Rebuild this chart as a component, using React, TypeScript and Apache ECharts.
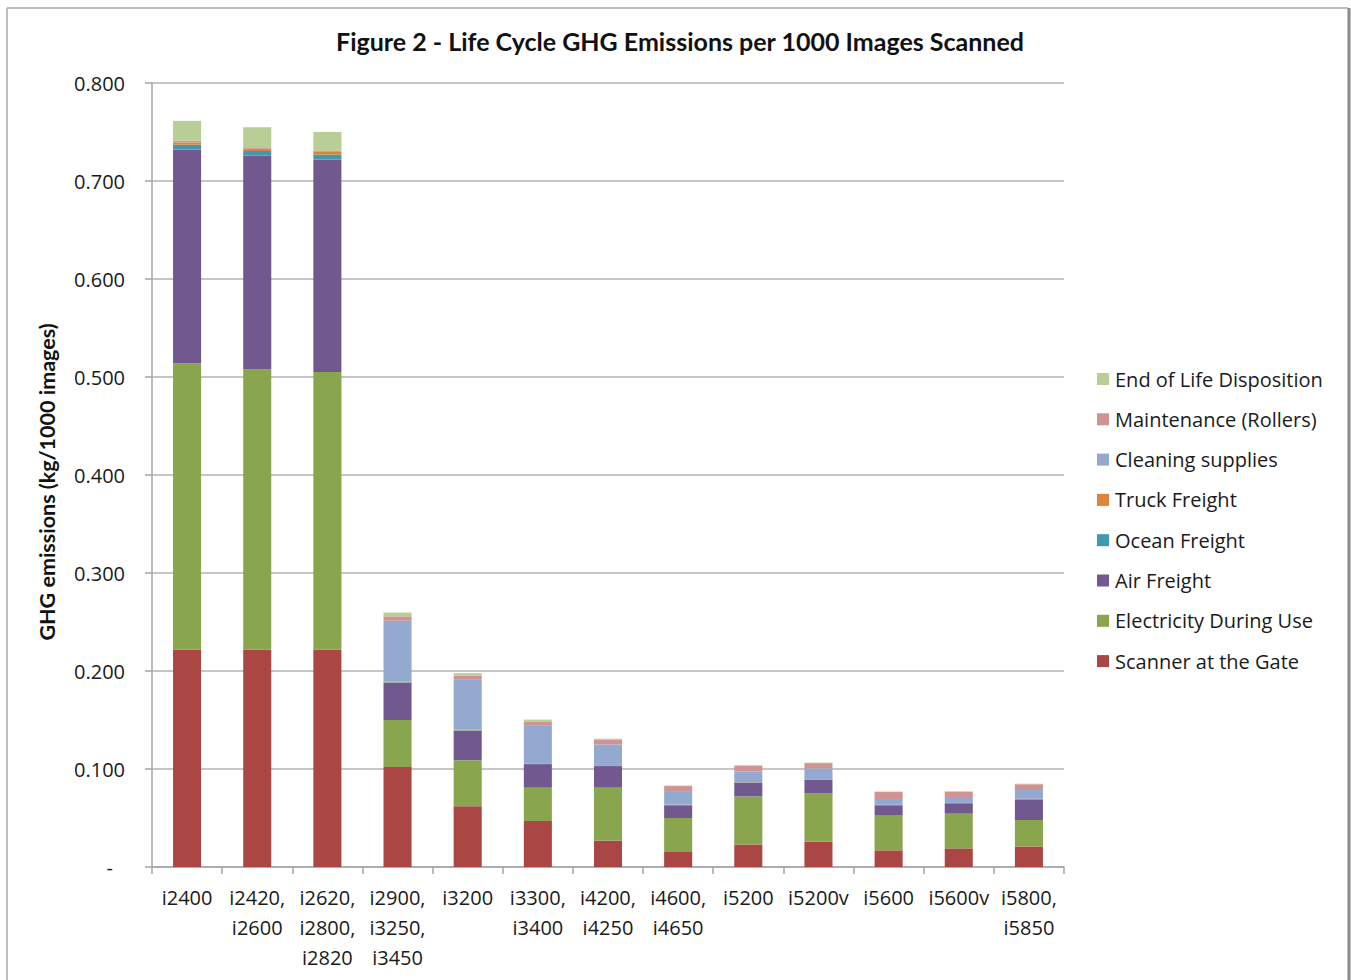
import React, { useEffect, useRef } from "react";
import * as echarts from "echarts";

const categories = [
  "i2400",
  "i2420,\ni2600",
  "i2620,\ni2800,\ni2820",
  "i2900,\ni3250,\ni3450",
  "i3200",
  "i3300,\ni3400",
  "i4200,\ni4250",
  "i4600,\ni4650",
  "i5200",
  "i5200v",
  "i5600",
  "i5600v",
  "i5800,\ni5850",
];

const scannerAtGate = [0.222, 0.222, 0.222, 0.102, 0.062, 0.047, 0.027, 0.016, 0.023, 0.026, 0.017, 0.019, 0.021];
const electricityDuringUse = [0.292, 0.286, 0.283, 0.048, 0.047, 0.034, 0.054, 0.034, 0.049, 0.049, 0.036, 0.036, 0.027];
const airFreight = [0.218, 0.218, 0.217, 0.038, 0.030, 0.024, 0.022, 0.013, 0.014, 0.014, 0.010, 0.010, 0.021];
const oceanFreight = [0.005, 0.0045, 0.005, 0.0005, 0.0005, 0.0005, 0.0005, 0.0003, 0.0003, 0.0003, 0.0002, 0.0002, 0.0003];
const truckFreight = [0.0023, 0.0024, 0.0027, 0.0008, 0.0005, 0.0005, 0.0005, 0.0003, 0.0003, 0.0003, 0.0002, 0.0002, 0.0003];
const cleaningSupplies = [0, 0, 0, 0.062, 0.051, 0.038, 0.021, 0.013, 0.011, 0.011, 0.006, 0.006, 0.009];
const maintenanceRollers = [0.0017, 0.0016, 0.001, 0.0044, 0.0044, 0.0046, 0.005, 0.006, 0.0057, 0.0054, 0.0071, 0.0054, 0.0058];
const endOfLife = [0.0204, 0.0204, 0.0194, 0.004, 0.0024, 0.0018, 0.001, 0.0005, 0.0005, 0.0005, 0.0005, 0.0005, 0.0005];

const seriesNames = [
  "Scanner at the Gate",
  "Electricity During Use",
  "Air Freight",
  "Ocean Freight",
  "Truck Freight",
  "Cleaning supplies",
  "Maintenance (Rollers)",
  "End of Life Disposition",
];
const seriesValues = [
  scannerAtGate,
  electricityDuringUse,
  airFreight,
  oceanFreight,
  truckFreight,
  cleaningSupplies,
  maintenanceRollers,
  endOfLife,
];
const seriesColors = ["#AA4643", "#89A54E", "#71588F", "#4198AF", "#DB843D", "#93A9CF", "#D19392", "#B9CD96"];

const yTicks = { min: 0, max: 0.8, interval: 0.1 };

export default function App() {
  const ref = useRef<HTMLDivElement>(null);
  useEffect(() => {
    if (!ref.current) return;
    const chart = echarts.init(ref.current, undefined, { renderer: "svg" });
    const labelFont = "'Open Sans', 'Noto Sans', sans-serif";
    chart.setOption({
      animation: false,
      backgroundColor: "#ffffff",
      graphic: [
        { type: "line", shape: { x1: 7, y1: 8, x2: 1348, y2: 8 }, style: { stroke: "#bdbdbd", lineWidth: 2 } },
        { type: "line", shape: { x1: 7, y1: 8, x2: 7, y2: 980 }, style: { stroke: "#bdbdbd", lineWidth: 2 } },
        { type: "line", shape: { x1: 1349, y1: 8, x2: 1349, y2: 980 }, style: { stroke: "#8a8a8a", lineWidth: 3 } },
        {
          type: "text",
          x: 680,
          y: 41,
          style: {
            text: "Figure 2 - Life Cycle GHG Emissions per 1000 Images Scanned",
            font: "bold 25px Lato, 'Open Sans', sans-serif",
            fill: "#111",
            textAlign: "center",
            textVerticalAlign: "middle",
          },
        },
        {
          type: "text",
          x: 47,
          y: 482,
          rotation: Math.PI / 2,
          style: {
            text: "GHG emissions (kg/1000 images)",
            font: "bold 21.5px Lato, 'Open Sans', sans-serif",
            fill: "#111",
            textAlign: "center",
            textVerticalAlign: "middle",
          },
        },
      ],
      legend: {
        orient: "vertical",
        left: 1092,
        top: 364,
        itemWidth: 12,
        itemHeight: 12,
        itemGap: 20.3,
        icon: "rect",
        data: seriesNames.slice().reverse(),
        textStyle: { fontFamily: labelFont, fontSize: 20, color: "#1a1a1a", lineHeight: 20, padding: [0, 0, 0, 1] },
      },
      grid: { left: 152, right: 287, top: 83, bottom: 113, containLabel: false },
      xAxis: {
        type: "category",
        data: categories,
        axisLine: { lineStyle: { color: "#a6a6a6", width: 1.5 } },
        axisTick: { show: true, length: 7, lineStyle: { color: "#a6a6a6", width: 1.5 } },
        axisLabel: {
          interval: 0,
          margin: 15,
          fontFamily: labelFont,
          fontSize: 20,
          lineHeight: 30,
          color: "#1a1a1a",
        },
      },
      yAxis: {
        type: "value",
        min: yTicks.min,
        max: yTicks.max,
        interval: yTicks.interval,
        axisLine: { show: true, lineStyle: { color: "#a6a6a6", width: 1.5 } },
        axisTick: { show: true, length: 7, lineStyle: { color: "#a6a6a6", width: 1.5 } },
        splitLine: { lineStyle: { color: "#b3b3b3", width: 1.5 } },
        axisLabel: {
          margin: 27,
          fontFamily: labelFont,
          fontSize: 20,
          color: "#1a1a1a",
          formatter: (v: number) => (v === 0 ? "{d|-}" : v.toFixed(3)),
          rich: { d: { fontFamily: labelFont, fontSize: 20, color: "#1a1a1a", padding: [0, 12, 0, 0] } },
        },
      },
      series: seriesNames.map((name, i) => ({
        name,
        type: "bar",
        stack: "total",
        barWidth: "40%",
        data: seriesValues[i],
        itemStyle: { color: seriesColors[i] },
      })),
    });
    return () => chart.dispose();
  }, []);
  return (
    <div
      ref={ref}
      style={{ position: "fixed", left: 0, top: 0, width: 1351, height: 980, background: "#fff" }}
    />
  );
}
